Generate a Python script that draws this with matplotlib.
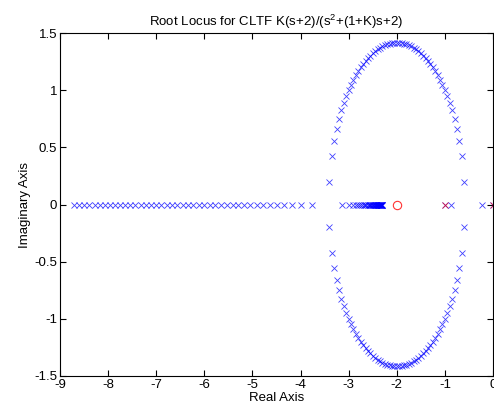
import matplotlib

matplotlib.use("Agg")
import matplotlib.pyplot as plt  # noqa: E402
import numpy as np  # noqa: E402

# open-loop G(s) = (s+2) / (s(s+1)), closed loop poles of den + K*num
num = [1, 2]
den = [1, 1, 0]
ol_poles = [0.0, -1.0]
ol_zeros = [-2.0]

# gain sweep 0 .. 10 (step 0.1)
gains = [
    0.0, 0.1, 0.2, 0.3, 0.4, 0.5, 0.6, 0.7, 0.8, 0.9,
    1.0, 1.1, 1.2, 1.3, 1.4, 1.5, 1.6, 1.7, 1.8, 1.9,
    2.0, 2.1, 2.2, 2.3, 2.4, 2.5, 2.6, 2.7, 2.8, 2.9,
    3.0, 3.1, 3.2, 3.3, 3.4, 3.5, 3.6, 3.7, 3.8, 3.9,
    4.0, 4.1, 4.2, 4.3, 4.4, 4.5, 4.6, 4.7, 4.8, 4.9,
    5.0, 5.1, 5.2, 5.3, 5.4, 5.5, 5.6, 5.7, 5.8, 5.9,
    6.0, 6.1, 6.2, 6.3, 6.4, 6.5, 6.6, 6.7, 6.8, 6.9,
    7.0, 7.1, 7.2, 7.3, 7.4, 7.5, 7.6, 7.7, 7.8, 7.9,
    8.0, 8.1, 8.2, 8.3, 8.4, 8.5, 8.6, 8.7, 8.8, 8.9,
    9.0, 9.1, 9.2, 9.3, 9.4, 9.5, 9.6, 9.7, 9.8, 9.9,
    10.0,
]

x_ticks = [-9, -8, -7, -6, -5, -4, -3, -2, -1, 0]
y_ticks = [-1.5, -1, -0.5, 0, 0.5, 1, 1.5]

plt.rcParams["font.family"] = ["Liberation Sans", "DejaVu Sans"]
plt.rcParams["mathtext.default"] = "regular"

roots = []
for k in gains:
    poly = np.polyadd(den, k * np.array(num, dtype=float))
    roots.extend(np.roots(poly))
roots = np.array(roots)

fig = plt.figure(figsize=(4.94, 4.12), dpi=100)
ax = fig.add_axes([60 / 494, 36 / 412, 433 / 494, 343 / 412])

ax.plot(roots.real, roots.imag, "x", color="#0000ff", markersize=4.2,
        markeredgewidth=0.6, alpha=0.75)
ax.plot(ol_poles, [0] * len(ol_poles), "x", color="#ff0000", markersize=4.2,
        markeredgewidth=0.6, alpha=0.75, clip_on=True)
ax.plot(ol_zeros, [0] * len(ol_zeros), "o", color="#ff0000", markersize=6,
        markerfacecolor="none", markeredgewidth=0.8, alpha=0.8)

ax.set_xlim(-9, 0)
ax.set_ylim(-1.5, 1.5)
ax.set_xticks(x_ticks)
ax.set_yticks(y_ticks)
ax.set_xticklabels([str(t) for t in x_ticks])
ax.set_yticklabels(["-1.5", "-1", "-0.5", "0", "0.5", "1", "1.5"])
ax.tick_params(direction="in", length=4, width=0.8, top=True, right=True,
               labelsize=9.5, pad=2)
for s in ax.spines.values():
    s.set_linewidth(0.8)

ax.set_title(r"Root Locus for CLTF K(s+2)/(s$^{2}$+(1+K)s+2)", fontsize=9.5, pad=5)
ax.set_xlabel("Real Axis", fontsize=9.5, labelpad=1)
ax.set_ylabel("Imaginary Axis", fontsize=9.5, labelpad=2)

fig.savefig("out.png", dpi=100)
